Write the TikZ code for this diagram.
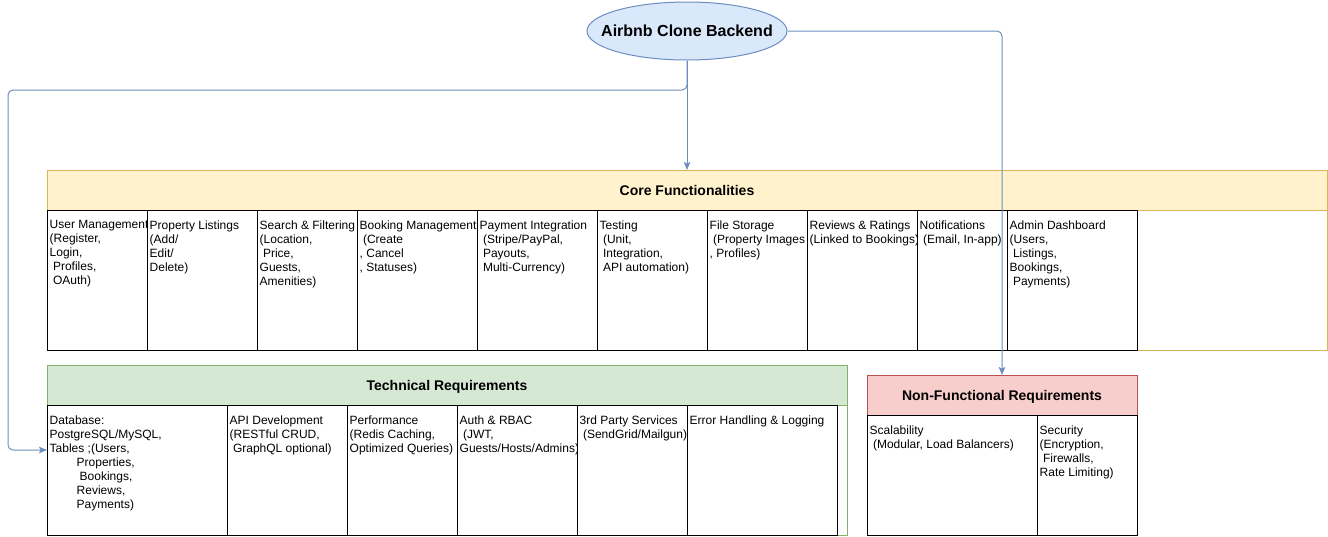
\documentclass[tikz,border=0pt]{standalone}
\usepackage{fontspec}
\setmainfont{Liberation Sans}
\usetikzlibrary{arrows.meta,shapes.geometric}
\definecolor{bluefill}{HTML}{DAE8FC}
\definecolor{blueline}{HTML}{6C8EBF}
\definecolor{yelfill}{HTML}{FFF2CC}
\definecolor{yelline}{HTML}{D6B656}
\definecolor{grnfill}{HTML}{D5E8D4}
\definecolor{grnline}{HTML}{82B366}
\definecolor{redfill}{HTML}{F8CECC}
\definecolor{redline}{HTML}{B85450}
\tikzset{
  lane/.style={draw, line width=1pt, fill=white, anchor=north west, inner sep=0pt, outer sep=0pt},
  lanehead/.style={draw, line width=1pt, anchor=north west, inner sep=0pt, outer sep=0pt,
    text depth=0pt, font=\bfseries\fontsize{14}{16}\selectfont},
  cellbox/.style={draw=black, line width=1pt, fill=white, anchor=north west, inner sep=0pt, outer sep=0pt},
  celltext/.style={anchor=north west, inner xsep=2.5pt, inner ysep=10.5pt, align=left,
    font=\fontsize{12}{14}\selectfont},
  conn/.style={draw=blueline, line width=1pt, rounded corners=5pt,
    -{Stealth[length=8pt,width=6.5pt,inset=1.5pt]}},
}
\newcommand\mycell[6]{%
  \node[cellbox, minimum width=#4pt, minimum height=#5pt] (#1) at (#2,#3) {};
  \node[celltext] (#1t) at (#1.north west) {#6};
}
\begin{document}
\begin{tikzpicture}[x=1pt,y=-1pt]
\useasboundingbox (0,0) rectangle (1328,536);

% root
\node[ellipse, draw=blueline, fill=bluefill, line width=1pt, minimum width=200pt, minimum height=58pt,
  inner sep=0pt, font=\bfseries\fontsize{16}{18}\selectfont] (root) at (687,31) {\makebox[0pt]{Airbnb Clone Backend}};

% Core functionalities
\node[lane, draw=yelline, minimum width=1280pt, minimum height=180pt] (core) at (47,170) {};
\node[lanehead, draw=yelline, fill=yelfill, minimum width=1280pt, minimum height=40pt] (coreh) at (47,170) {Core Functionalities};
\mycell{c1}{47}{210}{100}{140}{User Management\\(Register,\\Login,\\\ Profiles,\\\ OAuth)}
\mycell{c2}{147}{210}{110}{140}{Property Listings\\(Add/\\Edit/\\Delete)}
\mycell{c3}{257}{210}{100}{140}{Search \& Filtering\\(Location,\\\ Price,\\Guests,\\Amenities)}
\mycell{c4}{357}{210}{120}{140}{Booking Management\\\ (Create\\, Cancel\\, Statuses)}
\mycell{c5}{477}{210}{120}{140}{Payment Integration\\\ (Stripe/PayPal,\\\ Payouts,\\\ Multi-Currency)}
\mycell{c6}{597}{210}{110}{140}{Testing\\\ (Unit,\\\ Integration,\\\ API automation)}
\mycell{c7}{707}{210}{100}{140}{File Storage\\\ (Property Images\\, Profiles)}
\mycell{c8}{807}{210}{110}{140}{Reviews \& Ratings\\(Linked to Bookings)}
\mycell{c9}{917}{210}{90}{140}{Notifications\\\ (Email, In-app)}
\mycell{c10}{1007}{210}{130}{140}{Admin Dashboard\\(Users,\\\ Listings,\\Bookings,\\\ Payments)}

% Technical requirements
\node[lane, draw=grnline, minimum width=800pt, minimum height=170pt] (tech) at (47,365) {};
\node[lanehead, draw=grnline, fill=grnfill, minimum width=800pt, minimum height=40pt] (techh) at (47,365) {Technical Requirements};
\mycell{t1}{47}{405}{180}{130}{Database:\\PostgreSQL/MySQL,\\Tables ;(Users,\\\hspace*{27pt}Properties,\\\hspace*{30pt}Bookings,\\\hspace*{27pt}Reviews,\\\hspace*{27pt}Payments)}
\mycell{t2}{227}{405}{120}{130}{API Development\\(RESTful CRUD,\\\ GraphQL optional)}
\mycell{t3}{347}{405}{110}{130}{Performance\\(Redis Caching,\\Optimized Queries)}
\mycell{t4}{457}{405}{120}{130}{Auth \& RBAC\\\ (JWT,\\Guests/Hosts/Admins)}
\mycell{t5}{577}{405}{110}{130}{3rd Party Services\\\ (SendGrid/Mailgun)}
\mycell{t6}{687}{405}{150}{130}{Error Handling \& Logging}

% Non-functional requirements
\node[lane, draw=redline, minimum width=270pt, minimum height=160pt] (nf) at (867,375) {};
\node[lanehead, draw=redline, fill=redfill, minimum width=270pt, minimum height=40pt] (nfh) at (867,375) {Non-Functional Requirements};
\mycell{n1}{867}{415}{170}{120}{Scalability\\\ (Modular, Load Balancers)}
\mycell{n2}{1037}{415}{100}{120}{Security\\(Encryption,\\\ Firewalls,\\Rate Limiting)}

% connectors
\draw[conn] (root.south) -- (coreh.north);
\draw[conn] (root.south) |- (8,90) |- ([yshift=-45pt]t1.north west);
\draw[conn] (root.east) -| (nfh.north);
\end{tikzpicture}
\end{document}
